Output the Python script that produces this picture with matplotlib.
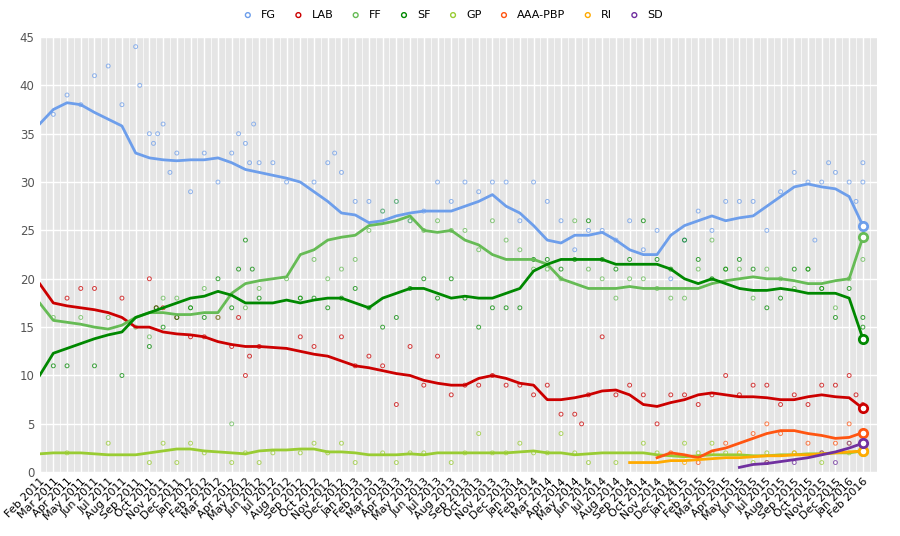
import matplotlib
matplotlib.use("Agg")
import matplotlib.pyplot as plt
import numpy as np

months = []
for y in range(2011, 2017):
    for m in ["Jan","Feb","Mar","Apr","May","Jun","Jul","Aug","Sep","Oct","Nov","Dec"]:
        months.append(f"{m} {y}")
months = months[1:62]  # Feb 2011 .. Feb 2016

fg_trend = [36,37.5,38.2,38,37.2,36.5,35.8,33,32.5,32.3,32.2,32.3,32.3,32.5,32,31.3,31,30.7,30.4,30,29,28,26.8,26.6,25.8,26,26.5,26.8,27,27,27,27.5,28,28.7,27.5,26.8,25.5,24,23.7,24.5,24.5,24.8,24,23,22.5,22.5,24.5,25.5,26,26.5,26,26.3,26.5,27.5,28.5,29.5,29.8,29.5,29.3,28.5,25.5]
lab_trend = [19.5,17.5,17.2,17,16.8,16.5,16,15,15,14.5,14.3,14.2,14,13.5,13.2,13,13,12.9,12.8,12.5,12.2,12,11.5,11,10.8,10.5,10.2,10,9.5,9.2,9,9,9.7,10,9.7,9.2,9,7.5,7.5,7.7,8,8.4,8.5,8,7,6.8,7.2,7.5,8,8.2,8,7.8,7.8,7.7,7.5,7.5,7.8,8,7.8,7.7,6.6]
ff_trend = [17.5,15.7,15.5,15.3,15,14.8,15.2,16,16.5,16.5,16.3,16.3,16.5,16.5,18.5,19.5,19.8,20,20.2,22.5,23,24,24.3,24.5,25.5,25.7,26,26.5,25,24.8,25,24,23.5,22.5,22,22,22,21.5,20,19.5,19,19,19,19.2,19,19,19,19,19,19.5,19.8,20,20.2,20,20,19.8,19.5,19.5,19.8,20,24.3]
sf_trend = [10,12.3,12.8,13.3,13.8,14.2,14.5,16,16.5,17,17.5,18,18.2,18.7,18.3,17.5,17.5,17.5,17.8,17.5,17.8,18,18,17.5,17,18,18.5,19,19,18.5,18,18.2,18,18,18.5,19,20.8,21.5,22,22,22,22,21.5,21.5,21.5,21.5,21,20,19.5,20,19.5,19,18.8,18.8,19,18.8,18.5,18.5,18.5,18,13.8]
gp_trend = [1.9,2,2,2,1.9,1.8,1.8,1.8,2,2.2,2.4,2.4,2.2,2.1,2,1.9,2.2,2.3,2.3,2.4,2.4,2.1,2.1,2,1.8,1.8,1.8,1.9,1.8,2,2,2,2,2,2,2.1,2.2,2,2,1.8,1.9,2,2,2,2,1.8,1.7,1.6,1.7,1.8,1.8,1.8,1.7,1.7,1.8,1.8,1.9,1.9,2,2,2.2]
aaa_x = [45,46,47,48,49,50,51,52,53,54,55,56,57,58,59,60]
aaa_trend = [1.5,2,1.8,1.5,2.2,2.5,3,3.5,4,4.3,4.3,4,3.8,3.5,3.6,4.1]
ri_x = [43,44,45,46,47,48,49,50,51,52,53,54,55,56,57,58,59,60]
ri_trend = [1,1,1,1.2,1.2,1.3,1.4,1.5,1.5,1.6,1.7,1.7,1.8,1.8,1.9,2,2.1,2.2]
sd_x = [51,52,53,54,55,56,57,58,59,60]
sd_trend = [0.5,0.8,0.9,1.1,1.3,1.5,1.8,2.1,2.5,3]

fg_polls = [(1,37),(2,39),(3,38),(4,41),(5,42),(6,38),(7,44),(7.3,40),(8,35),(8.3,34),(8.6,35),(9,36),(9.5,31),(10,33),(11,29),(12,33),(13,30),(14,33),(14.5,35),(15,34),(15.3,32),(15.6,36),(16,32),(17,32),(18,30),(20,30),(21,32),(21.5,33),(22,31),(23,28),(24,28),(25,27),(26,28),(27,26),(28,27),(29,30),(30,28),(31,30),(32,29),(33,30),(34,30),(35,26),(36,30),(37,28),(38,26),(39,23),(40,25),(41,25),(42,24),(43,26),(44,23),(45,25),(46,20),(47,24),(48,27),(49,25),(50,28),(51,28),(52,28),(53,25),(54,29),(55,31),(56,30),(56.5,24),(57,30),(57.5,32),(58,31),(59,30),(59.5,28),(60,32),(60,30)]
lab_polls = [(2,18),(3,19),(4,19),(6,18),(8,20),(8.5,17),(9,17),(10,16),(11,14),(12,14),(13,16),(14,13),(14.5,16),(15,10),(15.3,12),(16,13),(19,14),(20,13),(22,14),(23,11),(24,12),(25,11),(26,7),(27,13),(28,9),(29,12),(30,8),(31,9),(32,9),(33,10),(34,9),(35,9),(36,8),(37,9),(38,6),(39,6),(39.5,5),(40,8),(41,14),(42,8),(43,9),(44,8),(45,5),(46,8),(47,8),(48,7),(49,8),(50,10),(51,8),(52,9),(53,9),(54,7),(55,8),(56,7),(57,9),(58,9),(59,10),(59.5,8),(60,7)]
ff_polls = [(1,16),(3,16),(5,16),(7,15),(8,14),(9,18),(10,18),(11,17),(12,19),(13,16),(14,5),(15,17),(16,19),(18,20),(19,18),(20,22),(21,20),(22,21),(23,22),(24,25),(25,27),(26,28),(27,26),(28,25),(29,26),(30,25),(31,25),(32,23),(33,26),(34,24),(35,23),(36,21),(37,21),(38,20),(39,26),(40,21),(41,20),(42,18),(43,20),(44,20),(45,19),(46,18),(47,18),(48,21),(49,24),(50,21),(51,21),(52,18),(53,21),(54,20),(55,19),(56,21),(57,19),(58,17),(59,20),(60,22)]
sf_polls = [(1,11),(2,11),(4,11),(6,10),(8,13),(8.5,17),(9,15),(10,16),(11,17),(12,16),(13,20),(14,17),(14.5,21),(15,24),(15.5,21),(16,18),(19,18),(20,18),(21,17),(22,18),(23,19),(24,17),(25,15),(26,16),(27,19),(28,20),(29,18),(30,20),(31,18),(32,15),(33,17),(34,17),(35,17),(36,22),(37,22),(38,21),(39,22),(40,26),(41,22),(42,21),(43,22),(44,26),(45,22),(46,21),(47,24),(48,22),(49,20),(50,21),(51,22),(52,21),(53,17),(54,18),(55,21),(56,21),(57,19),(58,16),(59,19),(60,16),(60,15)]
gp_polls = [(2,2),(5,3),(8,1),(9,3),(10,1),(11,3),(12,2),(14,1),(15,2),(16,1),(17,2),(19,2),(20,3),(21,2),(22,3),(23,1),(25,2),(26,1),(27,2),(28,2),(30,1),(31,2),(32,4),(33,2),(34,2),(35,3),(36,2),(37,2),(38,4),(39,2),(40,1),(42,1),(44,3),(45,2),(47,3),(48,2),(49,3),(50,2),(52,1),(53,2),(55,2),(57,1),(59,2),(60,2)]
aaa_polls = [(46,2),(48,1),(50,3),(52,4),(53,5),(54,4),(56,3),(58,3),(59,5),(60,4)]
ri_polls = [(47,1),(49,2),(51,2),(53,1),(55,2),(57,2),(59,3),(60,2)]
sd_polls = [(53,1),(55,1),(57,2),(58,1),(59,3),(60,4)]

series = [
    ("FG", "#6d9eeb", list(range(61)), fg_trend, fg_polls),
    ("LAB", "#cc0000", list(range(61)), lab_trend, lab_polls),
    ("FF", "#66bb55", list(range(61)), ff_trend, ff_polls),
    ("SF", "#008800", list(range(61)), sf_trend, sf_polls),
    ("GP", "#99cc33", list(range(61)), gp_trend, gp_polls),
    ("AAA-PBP", "#ff5511", aaa_x, aaa_trend, aaa_polls),
    ("RI", "#ffaa00", ri_x, ri_trend, ri_polls),
    ("SD", "#7030a0", sd_x, sd_trend, sd_polls),
]

fig = plt.figure(figsize=(9, 5.36), dpi=100)
ax = fig.add_axes([0.044, 0.119, 0.93, 0.812])
ax.set_facecolor("#e5e5e5")
for name, c, xs, ys, polls in series:
    px = [p[0] for p in polls]; py = [p[1] for p in polls]
    ax.scatter(px, py, s=8, facecolors="none", edgecolors=c, linewidths=0.7, alpha=0.75, zorder=2)
    ax.plot(xs, ys, color=c, lw=2, zorder=3)
    ax.scatter([xs[-1]], [ys[-1]], s=36, facecolors="white", edgecolors=c, linewidths=2, zorder=4)
    ax.scatter([], [], s=12, facecolors="none", edgecolors=c, linewidths=1, label=name)

ax.set_xlim(0, 61)
ax.set_ylim(0, 45)
ax.set_yticks(range(0, 46, 5))
ax.set_xticks(range(61))
ax.set_xticklabels(months, rotation=45, ha="right", rotation_mode="anchor", fontsize=8)
ax.set_xticks(np.arange(0, 61, 0.5), minor=True)
ax.tick_params(axis="y", labelsize=8.5, colors="#555555", length=0)
ax.tick_params(axis="x", length=0, which="both", pad=3)
ax.grid(True, which="major", color="white", lw=1)
ax.grid(True, which="minor", axis="x", color="white", lw=0.5)
ax.set_axisbelow(True)
for s in ax.spines.values():
    s.set_visible(False)
fig.legend(loc="upper center", bbox_to_anchor=(0.5, 1.0), ncol=8, frameon=False,
           fontsize=8, handletextpad=0.2, columnspacing=1.0)
fig.savefig("out.png", dpi=100)
